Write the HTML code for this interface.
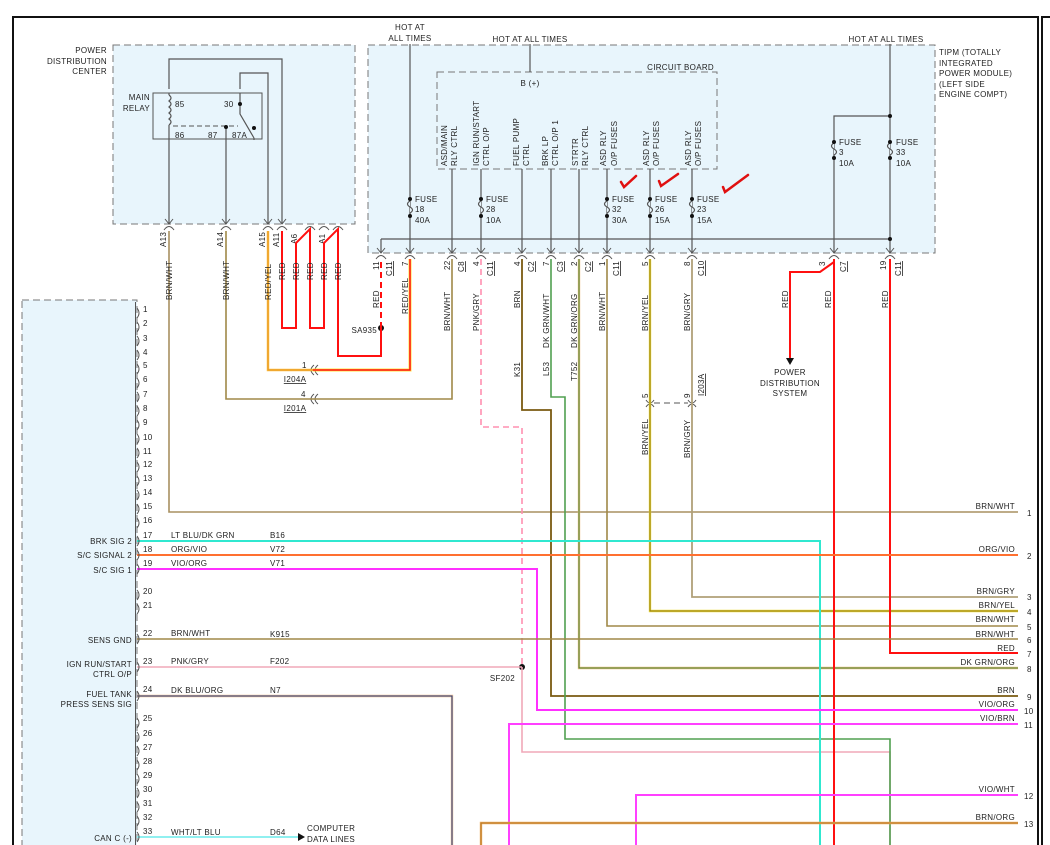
<!DOCTYPE html>
<html><head><meta charset="utf-8"><style>
html,body{margin:0;padding:0;background:#fff;}
svg{display:block;}
text{font-family:"Liberation Sans",sans-serif;font-size:8px;fill:#222;letter-spacing:0.3px;}
.r{text-anchor:end;}
.m{text-anchor:middle;}
.u{text-decoration:underline;}
</style></head><body>
<svg width="1050" height="845" viewBox="0 0 1050 845" xmlns="http://www.w3.org/2000/svg">
<!-- frame -->
<line x1="13" y1="17" x2="1039" y2="17" stroke="#111" stroke-width="2"/>
<line x1="13" y1="16" x2="13" y2="845" stroke="#111" stroke-width="2"/>
<line x1="1038" y1="16" x2="1038" y2="845" stroke="#111" stroke-width="2"/>
<line x1="1042" y1="17" x2="1050" y2="17" stroke="#111" stroke-width="2"/>
<line x1="1042" y1="16" x2="1042" y2="845" stroke="#111" stroke-width="2"/>

<!-- boxes -->
<rect x="113" y="45" width="242" height="179" fill="#e8f5fc" stroke="#777" stroke-dasharray="7,4"/>
<rect x="368" y="45" width="567" height="208" fill="#e8f5fc" stroke="#777" stroke-dasharray="7,4"/>
<rect x="437" y="72" width="280" height="97" fill="none" stroke="#777" stroke-dasharray="7,4"/>
<rect x="22" y="300" width="115" height="560" fill="#e8f5fc" stroke="#777" stroke-dasharray="7,4"/>

<!-- PDC labels -->
<text class="r" x="107" y="53">POWER</text>
<text class="r" x="107" y="64">DISTRIBUTION</text>
<text class="r" x="107" y="74">CENTER</text>
<rect x="153" y="93" width="109" height="46" fill="none" stroke="#555"/>
<text class="r" x="150" y="100">MAIN</text>
<text class="r" x="150" y="111">RELAY</text>
<text x="175" y="107">85</text><text x="175" y="138">86</text>
<text x="224" y="107">30</text><text x="208" y="138">87</text><text x="232" y="138">87A</text>
<g stroke="#555" fill="none" stroke-width="1.2">
<path d="M169 89 V59 H282 V224"/>
<path d="M240 89 V73 H268 V224"/>
<path d="M169 95 q4 3 0 6 q4 3 0 6 q4 3 0 6 q4 3 0 6 q4 3 0 6 M169 95 V93 M169 125 V224"/>
<path d="M240 93 V114 L254 138 M226 128 V224 M254 138 V140"/>
<path d="M173 126 H238" stroke-dasharray="5,3" stroke-width="1"/>
</g>
<circle cx="240" cy="104" r="2" fill="#111"/><circle cx="254" cy="128" r="2" fill="#111"/><circle cx="226" cy="127" r="2" fill="#111"/>

<!-- TIPM labels -->
<text class="m" x="410" y="30">HOT AT</text>
<text class="m" x="410" y="41">ALL TIMES</text>
<text class="m" x="530" y="42">HOT AT ALL TIMES</text>
<text class="m" x="886" y="42">HOT AT ALL TIMES</text>
<text x="939" y="55">TIPM (TOTALLY</text>
<text x="939" y="66">INTEGRATED</text>
<text x="939" y="76">POWER MODULE)</text>
<text x="939" y="87">(LEFT SIDE</text>
<text x="939" y="97">ENGINE COMPT)</text>
<text class="r" x="714" y="70">CIRCUIT BOARD</text>
<text class="m" x="530" y="86">B (+)</text>

<g stroke="#555" fill="none" stroke-width="1.2">
<path d="M530 44 V72"/>
<path d="M410 44 V253"/>
<path d="M890 44 V253 M890 116 H834 V253"/>
<path d="M381 239 H890 M381 239 V253"/>
<path d="M452 169 V253 M481 169 V253 M522 169 V253 M551 169 V253 M579 169 V253 M607 169 V253 M650 169 V253 M692 169 V253"/>
</g>
<g>
<text transform="translate(447,166) rotate(-90)">ASD/MAIN</text>
<text transform="translate(457,166) rotate(-90)">RLY CTRL</text>
<text transform="translate(479,166) rotate(-90)">IGN RUN/START</text>
<text transform="translate(489,166) rotate(-90)">CTRL O/P</text>
<text transform="translate(519,166) rotate(-90)">FUEL PUMP</text>
<text transform="translate(529,166) rotate(-90)">CTRL</text>
<text transform="translate(548,166) rotate(-90)">BRK LP</text>
<text transform="translate(558,166) rotate(-90)">CTRL O/P 1</text>
<text transform="translate(578,166) rotate(-90)">STRTR</text>
<text transform="translate(588,166) rotate(-90)">RLY CTRL</text>
<text transform="translate(606,166) rotate(-90)">ASD RLY</text>
<text transform="translate(617,166) rotate(-90)">O/P FUSES</text>
<text transform="translate(649,166) rotate(-90)">ASD RLY</text>
<text transform="translate(659,166) rotate(-90)">O/P FUSES</text>
<text transform="translate(691,166) rotate(-90)">ASD RLY</text>
<text transform="translate(701,166) rotate(-90)">O/P FUSES</text>
</g>
<g fill="#e8f5fc" stroke="#555" stroke-width="1.2">
<path d="M410 199 V201 q-5 3 0 6 q5 3 0 6 V216"/>
<path d="M481 199 V201 q-5 3 0 6 q5 3 0 6 V216"/>
<path d="M607 199 V201 q-5 3 0 6 q5 3 0 6 V216"/>
<path d="M650 199 V201 q-5 3 0 6 q5 3 0 6 V216"/>
<path d="M692 199 V201 q-5 3 0 6 q5 3 0 6 V216"/>
<path d="M834 141 V143 q-5 3 0 6 q5 3 0 6 V158"/>
<path d="M890 141 V143 q-5 3 0 6 q5 3 0 6 V158"/>
</g>
<g fill="#111">
<circle cx="410" cy="199" r="2"/><circle cx="410" cy="216" r="2"/>
<circle cx="481" cy="199" r="2"/><circle cx="481" cy="216" r="2"/>
<circle cx="607" cy="199" r="2"/><circle cx="607" cy="216" r="2"/>
<circle cx="650" cy="199" r="2"/><circle cx="650" cy="216" r="2"/>
<circle cx="692" cy="199" r="2"/><circle cx="692" cy="216" r="2"/>
<circle cx="834" cy="142" r="2"/><circle cx="834" cy="158" r="2"/>
<circle cx="890" cy="142" r="2"/><circle cx="890" cy="158" r="2"/>
<circle cx="890" cy="116" r="2"/><circle cx="890" cy="239" r="2"/>
<circle cx="381" cy="328" r="3"/><circle cx="522" cy="667" r="3"/>
</g>
<text x="415" y="202">FUSE</text><text x="415" y="212">18</text><text x="415" y="223">40A</text>
<text x="486" y="202">FUSE</text><text x="486" y="212">28</text><text x="486" y="223">10A</text>
<text x="612" y="202">FUSE</text><text x="612" y="212">32</text><text x="612" y="223">30A</text>
<text x="655" y="202">FUSE</text><text x="655" y="212">26</text><text x="655" y="223">15A</text>
<text x="697" y="202">FUSE</text><text x="697" y="212">23</text><text x="697" y="223">15A</text>
<text x="839" y="145">FUSE</text><text x="839" y="155">3</text><text x="839" y="166">10A</text>
<text x="896" y="145">FUSE</text><text x="896" y="155">33</text><text x="896" y="166">10A</text>
<g stroke="#e01010" stroke-width="2.5" fill="none" stroke-linecap="round">
<path d="M621 182 L624 187 L636 176"/>
<path d="M659 181 L661 186 L678 174"/>
<path d="M723 187 L725 192 L748 175"/>
</g>

<!-- connector symbols -->
<g stroke="#555" fill="none" stroke-width="1">
<path d="M377 248 L381 253 L385 248 M376 259 Q381 252 386 259"/>
<path d="M406 248 L410 253 L414 248 M405 259 Q410 252 415 259"/>
<path d="M448 248 L452 253 L456 248 M447 259 Q452 252 457 259"/>
<path d="M477 248 L481 253 L485 248 M476 259 Q481 252 486 259"/>
<path d="M518 248 L522 253 L526 248 M517 259 Q522 252 527 259"/>
<path d="M547 248 L551 253 L555 248 M546 259 Q551 252 556 259"/>
<path d="M575 248 L579 253 L583 248 M574 259 Q579 252 584 259"/>
<path d="M603 248 L607 253 L611 248 M602 259 Q607 252 612 259"/>
<path d="M646 248 L650 253 L654 248 M645 259 Q650 252 655 259"/>
<path d="M688 248 L692 253 L696 248 M687 259 Q692 252 697 259"/>
<path d="M830 248 L834 253 L838 248 M829 259 Q834 252 839 259"/>
<path d="M886 248 L890 253 L894 248 M885 259 Q890 252 895 259"/>
<path d="M165 219 L169 224 L173 219 M164 230 Q169 223 174 230"/>
<path d="M222 219 L226 224 L230 219 M221 230 Q226 223 231 230"/>
<path d="M264 219 L268 224 L272 219 M263 230 Q268 223 273 230"/>
<path d="M278 219 L282 224 L286 219 M277 230 Q282 223 287 230"/>
<path d="M305 230 Q310 223 315 230 M319 230 Q324 223 329 230 M333 230 Q338 223 343 230"/>
<path d="M646 400 Q650 406 654 400 M646 407 Q650 401 654 407 M688 400 Q692 406 696 400 M688 407 Q692 401 696 407"/>
<path d="M654 403 H688" stroke-dasharray="6,4"/>
<path d="M318 365 Q312 370 318 375 M314 365 Q308 370 314 375 M318 394 Q312 399 318 404 M314 394 Q308 399 314 404"/>
</g>
<!-- connector pin labels -->
<g>
<text transform="translate(379,270) rotate(-90)">11</text><text class="u" transform="translate(392,276) rotate(-90)">C11</text>
<text transform="translate(408,266) rotate(-90)">7</text>
<text transform="translate(450,270) rotate(-90)">22</text><text class="u" transform="translate(464,272) rotate(-90)">C8</text>
<text transform="translate(479,266) rotate(-90)">4</text><text class="u" transform="translate(493,276) rotate(-90)">C11</text>
<text transform="translate(520,266) rotate(-90)">4</text><text class="u" transform="translate(534,272) rotate(-90)">C2</text>
<text transform="translate(549,266) rotate(-90)">7</text><text class="u" transform="translate(563,272) rotate(-90)">C3</text>
<text transform="translate(577,266) rotate(-90)">2</text><text class="u" transform="translate(591,272) rotate(-90)">C2</text>
<text transform="translate(605,266) rotate(-90)">1</text><text class="u" transform="translate(619,276) rotate(-90)">C11</text>
<text transform="translate(648,266) rotate(-90)">5</text>
<text transform="translate(690,266) rotate(-90)">8</text><text class="u" transform="translate(704,276) rotate(-90)">C10</text>
<text transform="translate(825,266) rotate(-90)">3</text><text class="u" transform="translate(846,272) rotate(-90)">C7</text>
<text transform="translate(886,270) rotate(-90)">19</text><text class="u" transform="translate(901,276) rotate(-90)">C11</text>
<text transform="translate(166,247) rotate(-90)">A13</text>
<text transform="translate(223,247) rotate(-90)">A14</text>
<text transform="translate(265,247) rotate(-90)">A15</text>
<text transform="translate(279,247) rotate(-90)">A11</text>
<text transform="translate(297,244) rotate(-90)">A6</text>
<text transform="translate(325,244) rotate(-90)">A1</text>
<text transform="translate(648,398) rotate(-90)">5</text>
<text transform="translate(690,398) rotate(-90)">9</text>
<text class="u" transform="translate(704,396) rotate(-90)">I203A</text>
</g>

<!-- wires -->
<g fill="none" stroke-width="2">
<path d="M169 231 V512 H1018" stroke="#a89060" stroke-width="1.6"/>
<path d="M226 231 V399 H452 V259" stroke="#a08848" stroke-width="1.6"/>
<path d="M268 231 V370 H313" stroke="#ffc040" stroke-width="2.5"/>
<path d="M268 231 V370 H313" stroke="#e09020" stroke-width="1"/>
<path d="M313 370 H410 V259" stroke="#ffe040" stroke-width="3"/>
<path d="M313 370 H410 V259" stroke="#ff1010" stroke-width="1.5"/>
<path d="M282 231 V328 H296 V243 L310 229 V328 H324 V243 L338 229 V356 H381 V328" stroke="#ff1010"/>
<path d="M381 328 V259" stroke="#ff1010" stroke-dasharray="6,4"/>
<path d="M481 259 V427 H522 V667" stroke="#ff90b0" stroke-width="1.6" stroke-dasharray="6,4"/>
<path d="M522 667 V752 H890 V845" stroke="#f0a8b8" stroke-width="1.6"/>
<path d="M137 667 H522" stroke="#f0a8b8" stroke-width="1.6"/>
<path d="M522 259 V410 H551 V696 H1018" stroke="#7a5a10" stroke-width="1.8"/>
<path d="M551 259 V397 H565 V739 H890 V845" stroke="#50a050" stroke-width="1.6"/>
<path d="M579 259 V668 H1018" stroke="#f0c080" stroke-width="2.4"/>
<path d="M579 259 V668 H1018" stroke="#408030" stroke-width="1"/>
<path d="M607 259 V626 H1018" stroke="#a08848" stroke-width="1.6"/>
<path d="M650 259 V611 H1018" stroke="#f0e040" stroke-width="2.4"/>
<path d="M650 259 V611 H1018" stroke="#8a7010" stroke-width="1"/>
<path d="M692 259 V597 H1018" stroke="#b0a078" stroke-width="1.8"/>
<path d="M834 259 V845" stroke="#ff1010"/>
<path d="M834 262 L820 272 H790 V358" stroke="#ff1010"/>
<path d="M890 259 V653 H1018" stroke="#ff1010"/>
<path d="M137 541 H820 V845" stroke="#30e8d0"/>
<path d="M137 555 H1018" stroke="#ff7030"/>
<path d="M137 569 H537 V710 H1018" stroke="#ff30ff"/>
<path d="M137 639 H1018" stroke="#a08848" stroke-width="1.6"/>
<path d="M137 696 H452 V845" stroke="#f0c090" stroke-width="2.4"/>
<path d="M137 696 H452 V845" stroke="#203880" stroke-width="1"/>
<path d="M509 845 V724 H1018" stroke="#ff40ff"/>
<path d="M636 845 V795 H1018" stroke="#ff40ff"/>
<path d="M481 845 V823 H1018" stroke="#f0b060" stroke-width="2.4"/>
<path d="M481 845 V823 H1018" stroke="#b07020" stroke-width="1"/>
<path d="M137 837 H300" stroke="#90f0f0"/>
</g>
<path d="M786 358 H794 L790 365 Z" fill="#111"/>
<path d="M298 833 V841 L305 837 Z" fill="#111"/>
<text class="m" x="790" y="375">POWER</text>
<text class="m" x="790" y="386">DISTRIBUTION</text>
<text class="m" x="790" y="396">SYSTEM</text>
<text x="307" y="831">COMPUTER</text>
<text x="307" y="842">DATA LINES</text>
<text class="r" x="377" y="333">SA935</text>
<text class="r" x="515" y="681">SF202</text>
<text class="u m" x="295" y="382">I204A</text>
<text class="u m" x="295" y="411">I201A</text>
<text x="302" y="368">1</text>
<text x="301" y="397">4</text>

<g>
<text transform="translate(172,300) rotate(-90)">BRN/WHT</text>
<text transform="translate(229,300) rotate(-90)">BRN/WHT</text>
<text transform="translate(271,300) rotate(-90)">RED/YEL</text>
<text transform="translate(285,280) rotate(-90)">RED</text>
<text transform="translate(299,280) rotate(-90)">RED</text>
<text transform="translate(313,280) rotate(-90)">RED</text>
<text transform="translate(327,280) rotate(-90)">RED</text>
<text transform="translate(341,280) rotate(-90)">RED</text>
<text transform="translate(379,308) rotate(-90)">RED</text>
<text transform="translate(408,314) rotate(-90)">RED/YEL</text>
<text transform="translate(450,331) rotate(-90)">BRN/WHT</text>
<text transform="translate(479,331) rotate(-90)">PNK/GRY</text>
<text transform="translate(520,308) rotate(-90)">BRN</text>
<text transform="translate(520,377) rotate(-90)">K31</text>
<text transform="translate(549,348) rotate(-90)">DK GRN/WHT</text>
<text transform="translate(549,376) rotate(-90)">L53</text>
<text transform="translate(577,348) rotate(-90)">DK GRN/ORG</text>
<text transform="translate(577,381) rotate(-90)">T752</text>
<text transform="translate(605,331) rotate(-90)">BRN/WHT</text>
<text transform="translate(648,331) rotate(-90)">BRN/YEL</text>
<text transform="translate(690,331) rotate(-90)">BRN/GRY</text>
<text transform="translate(788,308) rotate(-90)">RED</text>
<text transform="translate(831,308) rotate(-90)">RED</text>
<text transform="translate(888,308) rotate(-90)">RED</text>
<text transform="translate(648,455) rotate(-90)">BRN/YEL</text>
<text transform="translate(690,458) rotate(-90)">BRN/GRY</text>
</g>

<g stroke="#555" fill="none" stroke-width="1">
<path d="M135.5 302 V845"/>
</g>
<g>
<text x="143" y="312">1</text><text x="143" y="326">2</text><text x="143" y="341">3</text><text x="143" y="355">4</text>
<text x="143" y="368">5</text><text x="143" y="382">6</text><text x="143" y="397">7</text><text x="143" y="411">8</text>
<text x="143" y="425">9</text><text x="143" y="440">10</text><text x="143" y="454">11</text><text x="143" y="467">12</text>
<text x="143" y="481">13</text><text x="143" y="495">14</text><text x="143" y="509">15</text><text x="143" y="523">16</text>
<text x="143" y="538">17</text><text x="143" y="552">18</text><text x="143" y="566">19</text>
<text x="143" y="594">20</text><text x="143" y="608">21</text><text x="143" y="636">22</text><text x="143" y="664">23</text>
<text x="143" y="692">24</text><text x="143" y="721">25</text><text x="143" y="736">26</text><text x="143" y="750">27</text>
<text x="143" y="764">28</text><text x="143" y="778">29</text><text x="143" y="792">30</text><text x="143" y="806">31</text>
<text x="143" y="820">32</text><text x="143" y="834">33</text>
</g>
<g stroke="#555" fill="none" stroke-width="1">
<path d="M137 308 q4 5 0 10 M137 322 q4 5 0 10 M137 336 q4 5 0 10 M137 350 q4 5 0 10 M137 364 q4 5 0 10 M137 378 q4 5 0 10 M137 392 q4 5 0 10 M137 406 q4 5 0 10 M137 420 q4 5 0 10 M137 434 q4 5 0 10 M137 448 q4 5 0 10 M137 462 q4 5 0 10 M137 476 q4 5 0 10 M137 490 q4 5 0 10 M137 504 q4 5 0 10 M137 518 q4 5 0 10 M137 536 q4 5 0 10 M137 550 q4 5 0 10 M137 564 q4 5 0 10 M137 590 q4 5 0 10 M137 604 q4 5 0 10 M137 634 q4 5 0 10 M137 662 q4 5 0 10 M137 691 q4 5 0 10 M137 718 q4 5 0 10 M137 732 q4 5 0 10 M137 746 q4 5 0 10 M137 760 q4 5 0 10 M137 774 q4 5 0 10 M137 788 q4 5 0 10 M137 802 q4 5 0 10 M137 816 q4 5 0 10 M137 832 q4 5 0 10"/>
</g>
<text class="r" x="132" y="544">BRK SIG 2</text>
<text class="r" x="132" y="558">S/C SIGNAL 2</text>
<text class="r" x="132" y="573">S/C SIG 1</text>
<text class="r" x="132" y="643">SENS GND</text>
<text class="r" x="132" y="667">IGN RUN/START</text>
<text class="r" x="132" y="677">CTRL O/P</text>
<text class="r" x="132" y="697">FUEL TANK</text>
<text class="r" x="132" y="707">PRESS SENS SIG</text>
<text class="r" x="132" y="841">CAN C (-)</text>
<text x="171" y="538">LT BLU/DK GRN</text><text x="270" y="538">B16</text>
<text x="171" y="552">ORG/VIO</text><text x="270" y="552">V72</text>
<text x="171" y="566">VIO/ORG</text><text x="270" y="566">V71</text>
<text x="171" y="636">BRN/WHT</text><text x="270" y="637">K915</text>
<text x="171" y="664">PNK/GRY</text><text x="270" y="664">F202</text>
<text x="171" y="693">DK BLU/ORG</text><text x="270" y="693">N7</text>
<text x="171" y="835">WHT/LT BLU</text><text x="270" y="835">D64</text>

<g>
<text class="r" x="1015" y="509">BRN/WHT</text><text x="1027" y="516">1</text>
<text class="r" x="1015" y="552">ORG/VIO</text><text x="1027" y="559">2</text>
<text class="r" x="1015" y="594">BRN/GRY</text><text x="1027" y="600">3</text>
<text class="r" x="1015" y="608">BRN/YEL</text><text x="1027" y="615">4</text>
<text class="r" x="1015" y="622">BRN/WHT</text><text x="1027" y="630">5</text>
<text class="r" x="1015" y="637">BRN/WHT</text><text x="1027" y="643">6</text>
<text class="r" x="1015" y="651">RED</text><text x="1027" y="657">7</text>
<text class="r" x="1015" y="665">DK GRN/ORG</text><text x="1027" y="672">8</text>
<text class="r" x="1015" y="693">BRN</text><text x="1027" y="700">9</text>
<text class="r" x="1015" y="707">VIO/ORG</text><text x="1024" y="714">10</text>
<text class="r" x="1015" y="721">VIO/BRN</text><text x="1024" y="728">11</text>
<text class="r" x="1015" y="792">VIO/WHT</text><text x="1024" y="799">12</text>
<text class="r" x="1015" y="820">BRN/ORG</text><text x="1024" y="827">13</text>
</g>
</svg>
</body></html>
